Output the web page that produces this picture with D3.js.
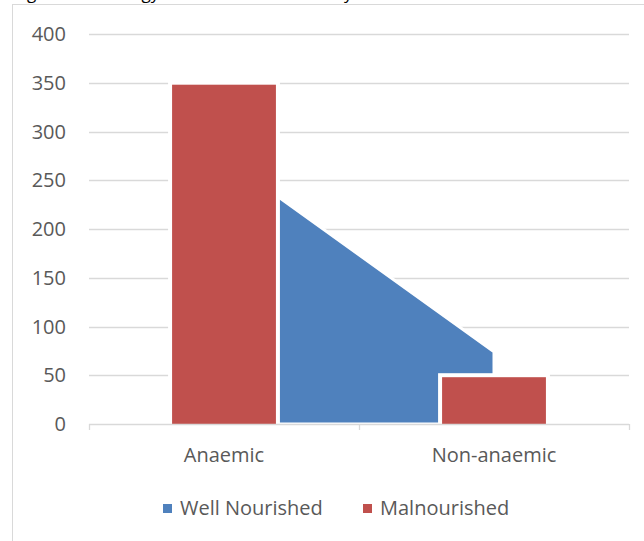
<!DOCTYPE html>
<html>
<head>
<meta charset="utf-8">
<script src="https://cdn.jsdelivr.net/npm/d3@7"></script>
<style>
  body { margin: 0; background: #fff; }
  text { font-family: "Open Sans", sans-serif; }
</style>
</head>
<body>
<div id="chart"></div>
<script>
// data
const categories = ["Anaemic", "Non-anaemic"];
const wellNourished = [273, 74];
const malnourished = [348, 48];
const yTicks = [0, 50, 100, 150, 200, 250, 300, 350, 400];
const seriesNames = ["Well Nourished", "Malnourished"];
const colors = ["#4F81BD", "#C0504D"];

const width = 644, height = 541;
const plot = { left: 89, right: 629, top: 34, bottom: 424 };

const svg = d3.select("#chart")
  .append("svg")
  .attr("width", width)
  .attr("height", height);

// chart frame (right/bottom sides are cut off in the original)
svg.append("rect")
  .attr("x", 12.5).attr("y", 4.5)
  .attr("width", 700).attr("height", 600)
  .attr("fill", "#fff")
  .attr("stroke", "#D9D9D9");

// title, mostly cut off at top
svg.append("text")
  .attr("x", 14).attr("y", -1)
  .attr("font-size", 17)
  .attr("fill", "#000")
  .text("Figure 3: Aetiology of anaemia classified by nutrition");

const x = d3.scaleBand()
  .domain(categories)
  .range([plot.left, plot.right])
  .paddingInner(1.6 / 2.6)
  .paddingOuter(0.8 / 2.6);

const y = d3.scaleLinear()
  .domain([0, 400])
  .range([plot.bottom, plot.top]);

const center = (c) => x(c) + x.bandwidth() / 2;

// gridlines
svg.append("g")
  .selectAll("line")
  .data(yTicks.filter((d) => d > 0))
  .join("line")
  .attr("x1", plot.left).attr("x2", plot.right)
  .attr("y1", (d) => Math.round(y(d)) + 0.5)
  .attr("y2", (d) => Math.round(y(d)) + 0.5)
  .attr("stroke", "#D9D9D9")
  .attr("stroke-width", 1.3);

// y tick labels
svg.append("g")
  .selectAll("text")
  .data(yTicks)
  .join("text")
  .attr("x", 66)
  .attr("y", (d) => y(d))
  .attr("dy", "0.36em")
  .attr("text-anchor", "end")
  .attr("font-size", 20)
  .attr("fill", "#595959")
  .text((d) => d);

// Well Nourished as area between category centres
const areaData = categories.map((c, i) => ({ c, v: wellNourished[i] }));
const area = d3.area()
  .x((d) => center(d.c))
  .y0(y(0))
  .y1((d) => y(d.v));

svg.append("path")
  .datum(areaData)
  .attr("d", area)
  .attr("fill", colors[0])
  .attr("stroke", "#fff")
  .attr("stroke-width", 3)
  .attr("stroke-linejoin", "miter");

// Malnourished bars with white outline
const bars = svg.append("g");
bars.selectAll("rect.outline")
  .data(categories)
  .join("rect")
  .attr("class", "outline")
  .attr("x", (c) => x(c) - 4)
  .attr("y", (c, i) => y(malnourished[i]) - 4)
  .attr("width", x.bandwidth() + 8)
  .attr("height", (c, i) => y(0) - y(malnourished[i]) + 4)
  .attr("fill", "#fff");

bars.selectAll("rect.bar")
  .data(categories)
  .join("rect")
  .attr("class", "bar")
  .attr("x", (c) => x(c))
  .attr("y", (c, i) => y(malnourished[i]))
  .attr("width", x.bandwidth())
  .attr("height", (c, i) => y(0) - y(malnourished[i]))
  .attr("fill", colors[1]);

// x axis
const xAxis = svg.append("g").attr("transform", `translate(0,${plot.bottom})`);
xAxis.append("line")
  .attr("x1", plot.left).attr("x2", plot.right)
  .attr("y1", 0.5).attr("y2", 0.5)
  .attr("stroke", "#D9D9D9")
  .attr("stroke-width", 1.3);

const tickPos = [plot.left, plot.left + x.step(), plot.right];
xAxis.selectAll("line.tick")
  .data(tickPos)
  .join("line")
  .attr("class", "tick")
  .attr("x1", (d) => Math.round(d) + 0.5).attr("x2", (d) => Math.round(d) + 0.5)
  .attr("y1", 0).attr("y2", 6)
  .attr("stroke", "#D9D9D9")
  .attr("stroke-width", 1.3);

xAxis.selectAll("text")
  .data(categories)
  .join("text")
  .attr("x", (c) => center(c))
  .attr("y", 38)
  .attr("text-anchor", "middle")
  .attr("font-size", 20)
  .attr("fill", "#595959")
  .text((c) => c);

// legend
const legendX = [163, 363];
const legend = svg.append("g");
seriesNames.forEach((name, i) => {
  legend.append("rect")
    .attr("x", legendX[i]).attr("y", 504)
    .attr("width", 9).attr("height", 9)
    .attr("fill", colors[i]);
  legend.append("text")
    .attr("x", legendX[i] + 17).attr("y", 515)
    .attr("font-size", 20)
    .attr("fill", "#595959")
    .text(name);
});
</script>
</body>
</html>
